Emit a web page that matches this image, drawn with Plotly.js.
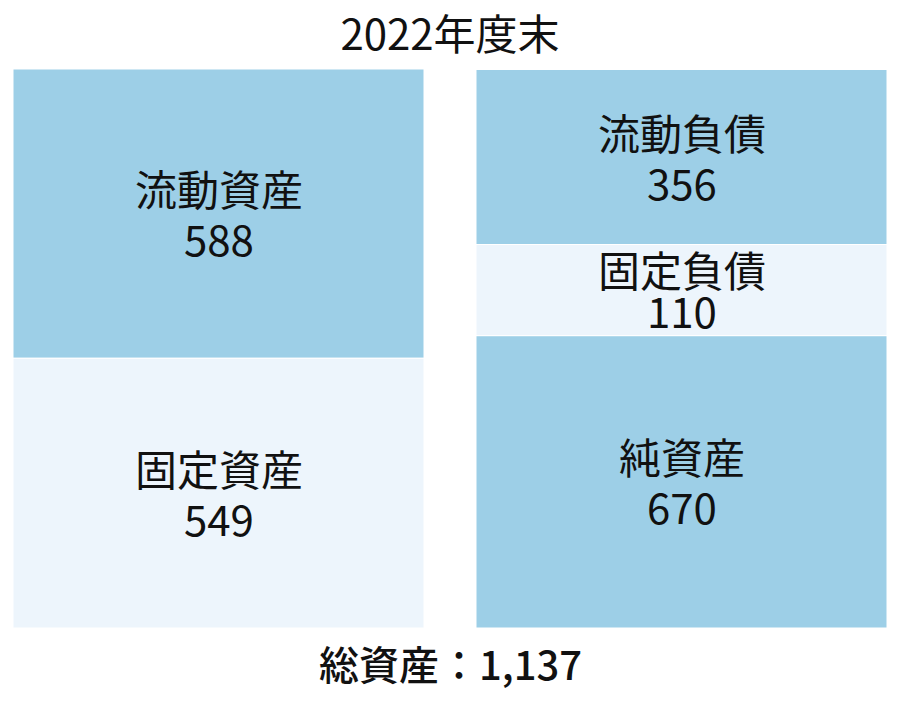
<!DOCTYPE html>
<html>
<head>
<meta charset="utf-8">
<script src="https://cdn.plot.ly/plotly-3.0.1.min.js"></script>
<style>
  html, body { margin: 0; padding: 0; background: #ffffff; }
  #chart { width: 900px; height: 722px; }
</style>
</head>
<body>
<div id="chart"></div>
<script>
// ---- data ----
const chartTitle = "2022年度末";
const columns = ["資産", "負債・純資産"];
// segments listed bottom -> top per column
const assetNames = ["固定資産", "流動資産"];
const assetValues = [549, 588];
const liabNames = ["純資産", "固定負債", "流動負債"];
const liabValues = [670, 110, 356];
const totalLabel = "総資産";
const totalAssets = 1137;

// ---- style ----
const darkBlue = "#9dcfe7";
const lightBlue = "#edf5fc";
const assetColors = [lightBlue, darkBlue];
const liabColors = [darkBlue, lightBlue, darkBlue];
const fontFamily = "'Noto Sans CJK JP', 'Noto Sans', sans-serif";
const labelSize = 42;
const minDisplayShare = 0.163; // small segments are drawn at least this tall so their labels fit

// display sizes: pad small segments, take the padding from the largest segment of the column
function displaySizes(vals) {
  const minV = minDisplayShare * totalAssets;
  const out = vals.slice();
  let pad = 0;
  out.forEach((v, i) => { if (v < minV) { pad += minV - v; out[i] = minV; } });
  let maxI = 0;
  vals.forEach((v, i) => { if (v > vals[maxI]) maxI = i; });
  out[maxI] -= pad;
  return out;
}

const W = 900, H = 722;
const margin = { l: 13, r: 13, t: 69, b: 94 };
const plotH = H - margin.t - margin.b;
const barW = 0.8877;
const pxPerUnit = plotH / totalAssets;

const traces = [];
const annotations = [];

function addColumn(col, names, vals, colors) {
  const disp = displaySizes(vals);
  let base = 0;
  names.forEach((n, i) => {
    traces.push({
      type: "bar",
      x: [col],
      y: [disp[i]],
      base: [base],
      width: [barW],
      marker: { color: colors[i], line: { color: "#ffffff", width: 1 } },
      name: n,
      hoverinfo: "skip",
      showlegend: false
    });
    const center = base + disp[i] / 2;
    const segPx = disp[i] * pxPerUnit;
    const gap = Math.min(50, segPx * 0.45);
    annotations.push({
      x: col, y: center, xref: "x", yref: "y",
      text: n, showarrow: false, yshift: gap / 2 + 1,
      xanchor: "center", yanchor: "middle",
      font: { family: fontFamily, size: labelSize, color: "#111111" }
    });
    annotations.push({
      x: col, y: center, xref: "x", yref: "y",
      text: String(vals[i]), showarrow: false, yshift: -gap / 2 + 1,
      xanchor: "center", yanchor: "middle",
      font: { family: fontFamily, size: labelSize, color: "#111111" }
    });
    base += disp[i];
  });
}

addColumn(columns[0], assetNames, assetValues, assetColors);
addColumn(columns[1], liabNames, liabValues, liabColors);

annotations.push({
  x: 0.5, y: 0, xref: "paper", yref: "paper",
  text: totalLabel + "：" + totalAssets.toLocaleString("en-US"),
  showarrow: false, yshift: -35, xanchor: "center", yanchor: "middle",
  font: { family: fontFamily, size: 40, weight: 500, color: "#111111" }
});

const layout = {
  width: W, height: H,
  margin: margin,
  paper_bgcolor: "#ffffff",
  plot_bgcolor: "#ffffff",
  barmode: "overlay",
  title: {
    text: chartTitle,
    x: 0.5, xanchor: "center",
    y: 1 - 35 / H, yanchor: "middle", yref: "container",
    font: { family: fontFamily, size: 42, color: "#111111" }
  },
  xaxis: {
    type: "category",
    range: [-barW / 2, 1 + barW / 2],
    showgrid: false, zeroline: false, showticklabels: false, showline: false, ticks: "",
    fixedrange: true
  },
  yaxis: {
    range: [0, totalAssets],
    showgrid: false, zeroline: false, showticklabels: false, showline: false, ticks: "",
    fixedrange: true
  },
  annotations: annotations,
  showlegend: false
};

Plotly.newPlot("chart", traces, layout, { displayModeBar: false, staticPlot: true });
</script>
</body>
</html>
